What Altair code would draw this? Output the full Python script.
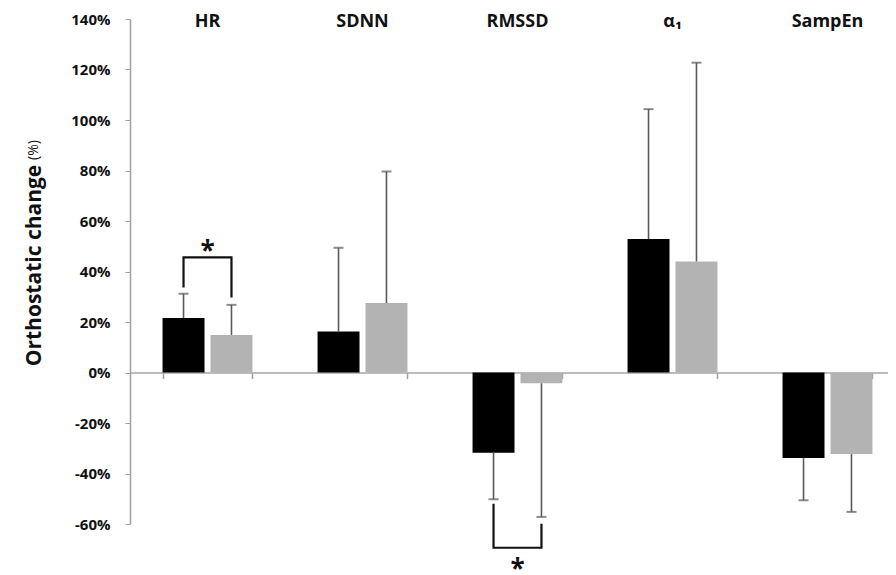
import altair as alt
import pandas as pd

categories = ["HR", "SDNN", "RMSSD", "α₁", "SampEn"]
series = ["A", "B"]
series_colors = ["#000000", "#b3b3b3"]

mean_a = [21.6, 16.2, -31.8, 52.9, -33.9]
err_a = [31.2, 49.4, -50.2, 104.3, -50.6]
mean_b = [14.9, 27.5, -4.3, 44.0, -32.3]
err_b = [26.8, 79.6, -57.2, 122.7, -55.2]

y_ticks = [-60, -40, -20, 0, 20, 40, 60, 80, 100, 120, 140]

# significance brackets
br_cat = ["HR", "RMSSD"]
br_leg_a = [33.7, -52.0]
br_level = [45.6, -69.4]
br_leg_b = [29.7, -59.9]
star_y = [50.2, -76.0]

rows = []
for i, c in enumerate(categories):
    rows.append({"cat": c, "grp": "A", "value": mean_a[i], "err": err_a[i]})
    rows.append({"cat": c, "grp": "B", "value": mean_b[i], "err": err_b[i]})
df = pd.DataFrame(rows)

brows = []
for i, c in enumerate(br_cat):
    brows.append({"cat": c, "grp": "A", "y": br_leg_a[i], "o": 0, "id": i})
    brows.append({"cat": c, "grp": "A", "y": br_level[i], "o": 1, "id": i})
    brows.append({"cat": c, "grp": "B", "y": br_level[i], "o": 2, "id": i})
    brows.append({"cat": c, "grp": "B", "y": br_leg_b[i], "o": 3, "id": i})
bdf = pd.DataFrame(brows)
sdf = pd.DataFrame({"cat": br_cat, "y": star_y, "t": ["*", "*"]})
unit_df = pd.DataFrame({"t": ["(%)"]})

H = 505
xscale = alt.Scale(domain=categories, range=[0, 775], paddingInner=0.42, paddingOuter=0.21)
xoff = alt.XOffset("grp:N", scale=alt.Scale(domain=series, paddingInner=0.125, paddingOuter=0))
yscale = alt.Scale(domain=[-60, 140], nice=False, zero=False)

base = alt.Chart(df)

bars = base.mark_bar().encode(
    x=alt.X("cat:N", scale=xscale, sort=categories, title=None,
            axis=alt.Axis(orient="top", domain=False, ticks=False, labelPadding=-2,
                          labelBaseline="middle", labelAngle=0, labelFontSize=18,
                          labelFontWeight="bold", labelColor="#111111")),
    xOffset=xoff,
    y=alt.Y("value:Q", scale=yscale, title="Orthostatic change",
            axis=alt.Axis(values=y_ticks, labelExpr="datum.value + '%'", grid=False,
                          labelFontSize=15, labelFontWeight="bold", labelColor="#111111",
                          labelPadding=15, tickSize=5, tickColor="#a0a0a0",
                          domainColor="#a0a0a0", domainWidth=1.5,
                          titleFontSize=21, titleFontWeight="bold", titleColor="#111111",
                          titlePadding=26, titleY=246)),
    color=alt.Color("grp:N", scale=alt.Scale(domain=series, range=series_colors), legend=None),
)

err_rules = base.mark_rule(color="#5a5a5a", strokeWidth=1.6).encode(
    x=alt.X("cat:N", scale=xscale, sort=categories,
            axis=alt.Axis(orient="bottom", offset=-H * 60 / 200, labels=False,
                          tickBand="extent", tickSize=6, tickColor="#a0a0a0", tickWidth=1.5,
                          domainColor="#a6a6a6", domainWidth=1.6, title=None)),
    xOffset=xoff,
    y=alt.Y("value:Q", scale=yscale),
    y2="err:Q",
)

caps = base.mark_tick(color="#5a5a5a", orient="horizontal", size=10, thickness=2).encode(
    x=alt.X("cat:N", scale=xscale, sort=categories, axis=None),
    xOffset=xoff,
    y=alt.Y("err:Q", scale=yscale),
)

brackets = alt.Chart(bdf).mark_line(color="#111111", strokeWidth=2.2).encode(
    x=alt.X("cat:N", scale=xscale, sort=categories, axis=None),
    xOffset=alt.XOffset("grp:N", scale=alt.Scale(domain=series, paddingInner=0.125, paddingOuter=0)),
    y=alt.Y("y:Q", scale=yscale),
    detail="id:N",
    order="o:Q",
)

stars = alt.Chart(sdf).mark_text(fontSize=26, fontWeight="bold", color="#111111",
                                 baseline="middle", dy=6).encode(
    x=alt.X("cat:N", scale=xscale, sort=categories, axis=None),
    y=alt.Y("y:Q", scale=yscale),
    text="t:N",
)

unit = alt.Chart(unit_df).mark_text(fontSize=14, color="#111111", angle=270,
                                    align="center", baseline="middle").encode(
    x=alt.value(-96), y=alt.value(131), text="t:N",
)

chart = alt.layer(bars, err_rules, caps, brackets, stars, unit).resolve_axis(x="independent").properties(
    width=758, height=H,
    autosize=alt.AutoSizeParams(type="none"),
    padding={"left": 122, "top": 11, "right": 0, "bottom": 50},
).configure(font="Open Sans").configure_view(stroke=None)

chart.save("out.html", embed_options={"renderer": "svg", "actions": False})
